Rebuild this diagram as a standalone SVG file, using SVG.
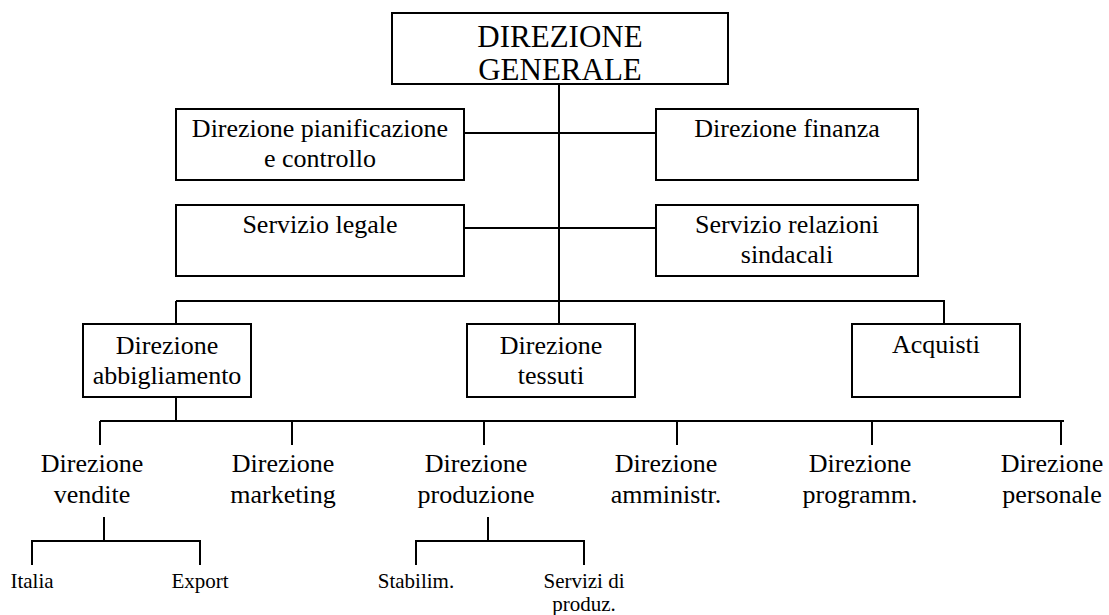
<svg xmlns="http://www.w3.org/2000/svg" width="1109" height="615" viewBox="0 0 1109 615" font-family="'Liberation Serif', Tinos, 'Times New Roman', Times, 'DejaVu Serif', serif">
  <style>
    .box { fill: #ffffff; stroke: #000000; stroke-width: 2; }
    .wire { fill: none; stroke: #000000; stroke-width: 2; }
    text { font-family: "Liberation Serif", Tinos, "Times New Roman", Times, "DejaVu Serif", serif; fill: #000000; text-anchor: middle; }
    .t31 { font-size: 31px; }
    .t26 { font-size: 26px; }
    .t21 { font-size: 21px; }
  </style>
  <rect width="1109" height="615" fill="#ffffff"/>

  <!-- connectors -->
  <g id="connectors" class="wire">
    <!-- main trunk -->
    <path d="M559 84 V324"/>
    <!-- staff offices -->
    <path d="M464 133 H656"/>
    <path d="M464 228 H656"/>
    <!-- divisions -->
    <path d="M176 301 H944 V324"/>
    <path d="M176 301 V324"/>
    <!-- functions under abbigliamento -->
    <path d="M176 397 V421"/>
    <path d="M100 421 H1064"/>
    <path d="M100 421 V445"/>
    <path d="M292 421 V445"/>
    <path d="M484 421 V445"/>
    <path d="M677 421 V445"/>
    <path d="M872 421 V445"/>
    <path d="M1061 421 V445"/>
    <!-- sales sub-units -->
    <path d="M104 517 V541"/>
    <path d="M32 565 V541 H200 V565"/>
    <!-- production sub-units -->
    <path d="M488 517 V541"/>
    <path d="M416 565 V541 H584 V565"/>
  </g>

  <g id="direzione-generale">
    <rect class="box" x="392" y="13" width="336" height="71"/>
    <text class="t31" x="560" y="47">DIREZIONE</text>
    <text class="t31" x="560" y="80">GENERALE</text>
  </g>

  <g id="pianificazione">
    <rect class="box" x="176" y="109" width="288" height="71"/>
    <text class="t26" x="320" y="137">Direzione pianificazione</text>
    <text class="t26" x="320" y="167">e controllo</text>
  </g>

  <g id="finanza">
    <rect class="box" x="656" y="109" width="262" height="71"/>
    <text class="t26" x="787" y="137">Direzione finanza</text>
  </g>

  <g id="legale">
    <rect class="box" x="176" y="205" width="288" height="71"/>
    <text class="t26" x="320" y="233">Servizio legale</text>
  </g>

  <g id="relazioni-sindacali">
    <rect class="box" x="656" y="205" width="262" height="71"/>
    <text class="t26" x="787" y="233">Servizio relazioni</text>
    <text class="t26" x="787" y="263">sindacali</text>
  </g>

  <g id="abbigliamento">
    <rect class="box" x="83" y="324" width="168" height="73"/>
    <text class="t26" x="167" y="354">Direzione</text>
    <text class="t26" x="167" y="384">abbigliamento</text>
  </g>

  <g id="tessuti">
    <rect class="box" x="467" y="324" width="168" height="73"/>
    <text class="t26" x="551" y="354">Direzione</text>
    <text class="t26" x="551" y="384">tessuti</text>
  </g>

  <g id="acquisti">
    <rect class="box" x="852" y="324" width="168" height="73"/>
    <text class="t26" x="936" y="353">Acquisti</text>
  </g>

  <g id="vendite">
    <text class="t26" x="92" y="472">Direzione</text>
    <text class="t26" x="92" y="503">vendite</text>
  </g>

  <g id="marketing">
    <text class="t26" x="283" y="472">Direzione</text>
    <text class="t26" x="283" y="503">marketing</text>
  </g>

  <g id="produzione">
    <text class="t26" x="476" y="472">Direzione</text>
    <text class="t26" x="476" y="503">produzione</text>
  </g>

  <g id="amministrazione">
    <text class="t26" x="666" y="472">Direzione</text>
    <text class="t26" x="666" y="503">amministr.</text>
  </g>

  <g id="programmazione">
    <text class="t26" x="860" y="472">Direzione</text>
    <text class="t26" x="860" y="503">programm.</text>
  </g>

  <g id="personale">
    <text class="t26" x="1052" y="472">Direzione</text>
    <text class="t26" x="1052" y="503">personale</text>
  </g>

  <g id="italia">
    <text class="t21" x="32" y="588">Italia</text>
  </g>

  <g id="export">
    <text class="t21" x="200" y="588">Export</text>
  </g>

  <g id="stabilimenti">
    <text class="t21" x="416" y="588">Stabilim.</text>
  </g>

  <g id="servizi-produzione">
    <text class="t21" x="584" y="588">Servizi di</text>
    <text class="t21" x="584" y="611">produz.</text>
  </g>
</svg>
